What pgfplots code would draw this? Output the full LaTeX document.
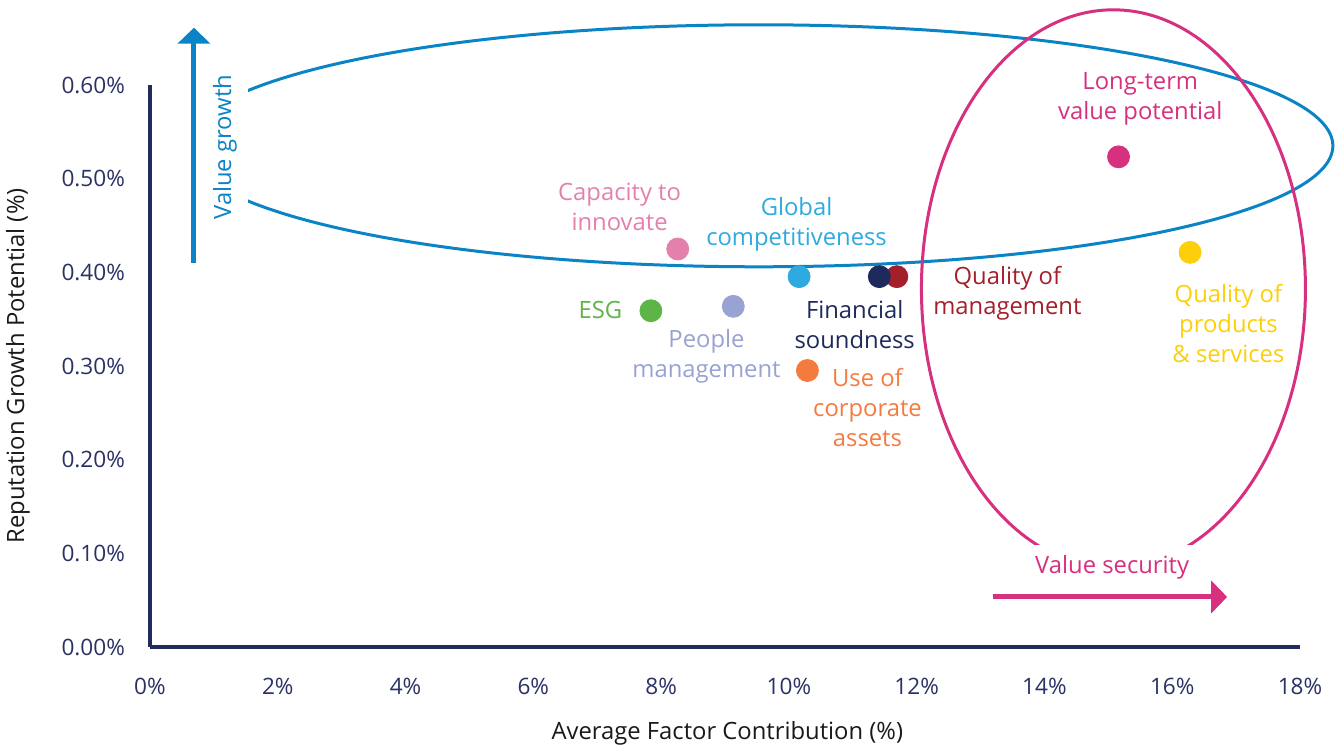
\documentclass[border=0pt]{standalone}
\usepackage{fontspec}
\setmainfont{Open Sans}
\usepackage{pgfplots}
\pgfplotsset{compat=1.18}
\usetikzlibrary{arrows.meta}
\definecolor{navy}{HTML}{232B5E}
\definecolor{navytext}{HTML}{2A3164}
\definecolor{vblue}{HTML}{0B84C6}
\definecolor{vpink}{HTML}{D6307F}
\definecolor{cprod}{HTML}{FDCF0A}
\definecolor{cmgmt}{HTML}{A3202A}
\definecolor{cfin}{HTML}{1F2A5C}
\definecolor{cglob}{HTML}{2EAAE1}
\definecolor{ccap}{HTML}{E480AC}
\definecolor{cesg}{HTML}{5DB547}
\definecolor{cpeop}{HTML}{98A2D3}
\definecolor{cuse}{HTML}{F47B3F}
\newcommand\tkl{\fontsize{11.3pt}{15pt}\selectfont}
\newcommand\lbl{\fontsize{11.9pt}{15pt}\selectfont}
\begin{document}
\begin{tikzpicture}
\useasboundingbox (-75pt,-50pt) rectangle (594.5pt,323.5pt);
\begin{axis}[
  at={(0,0)}, anchor=south west,
  scale only axis, width=575pt, height=281pt,
  xmin=0, xmax=18, ymin=0, ymax=0.6,
  clip=false,
  axis x line=bottom, axis y line=left,
  axis line style={navy, line width=2pt, -},
  xtick={0,2,4,6,8,10,12,14,16,18},
  xticklabels={0\%,2\%,4\%,6\%,8\%,10\%,12\%,14\%,16\%,18\%},
  ytick={0,0.1,0.2,0.3,0.4,0.5,0.6},
  yticklabels={0.00\%,0.10\%,0.20\%,0.30\%,0.40\%,0.50\%,0.60\%},
  major tick length=0pt, tick style={draw=none},
  xticklabel style={yshift=-12pt, text=navytext, font=\tkl},
  yticklabel style={xshift=-9pt, text=navytext, font=\tkl},
  xlabel={Average Factor Contribution (\%)},
  ylabel={Reputation Growth Potential (\%)},
  xlabel style={at={(axis description cs:0.502,-0.153)}, anchor=center, font=\lbl, text=black!90},
  ylabel style={at={(axis description cs:-0.1148,0.5)}, anchor=center, font=\lbl, text=black!90},
]
% annotations
\draw[vblue, line width=1.5pt] (axis cs:9.53,0.5351) ellipse [x radius=287pt, y radius=60.5pt];
\draw[vpink, line width=1.5pt] (axis cs:15.08,0.3824) ellipse [x radius=96pt, y radius=139.5pt];
\fill[white] (axis cs:0.313,0.4614) rectangle (axis cs:1.533,0.627);
\fill[white] (axis cs:13.64,0.060) rectangle (axis cs:16.55,0.109);
\draw[vblue, line width=2.5pt, -{Triangle[width=16pt,length=8pt]}] (axis cs:0.688,0.4102) -- (axis cs:0.688,0.6612);
\draw[vpink, line width=2.5pt, -{Triangle[width=16pt,length=8pt]}] (axis cs:13.19,0.0534) -- (axis cs:16.86,0.0534);
\node[rotate=90, text=vblue, font=\lbl] at (axis cs:1.173,0.5335) {Value growth};
\node[text=vpink, font=\lbl] at (axis cs:15.06,0.0855) {Value security};
% data points
\addplot[only marks, mark=*, mark size=5.5pt, color=vpink] coordinates {(15.16,0.5233)};
\addplot[only marks, mark=*, mark size=5.5pt, color=cprod] coordinates {(16.28,0.4213)};
\addplot[only marks, mark=*, mark size=5.5pt, color=cmgmt] coordinates {(11.69,0.3954)};
\addplot[only marks, mark=*, mark size=5.5pt, color=cfin] coordinates {(11.415,0.3954)};
\addplot[only marks, mark=*, mark size=5.5pt, color=cglob] coordinates {(10.16,0.3954)};
\addplot[only marks, mark=*, mark size=5.5pt, color=ccap] coordinates {(8.26,0.4249)};
\addplot[only marks, mark=*, mark size=5.5pt, color=cesg] coordinates {(7.84,0.359)};
\addplot[only marks, mark=*, mark size=5.5pt, color=cpeop] coordinates {(9.13,0.3637)};
\addplot[only marks, mark=*, mark size=5.5pt, color=cuse] coordinates {(10.29,0.2952)};
% labels
\node[align=center, text=vpink, font=\lbl] at (axis cs:15.50,0.5850) {Long-term\\value potential};
\node[align=center, text=ccap, font=\lbl] at (axis cs:7.35,0.4700) {Capacity to\\innovate};
\node[align=center, text=cglob, font=\lbl] at (axis cs:10.12,0.4510) {Global\\competitiveness};
\node[align=center, text=cfin, font=\lbl] at (axis cs:11.03,0.3440) {Financial\\soundness};
\node[align=center, text=cpeop, font=\lbl] at (axis cs:8.71,0.3105) {People\\management};
\node[align=center, text=cesg, font=\lbl] at (axis cs:7.05,0.3600) {ESG};
\node[align=center, text=cuse, font=\lbl] at (axis cs:11.23,0.2555) {Use of\\corporate\\assets};
\node[align=center, text=cmgmt, font=\lbl] at (axis cs:13.42,0.3772) {Quality of\\management};
\node[align=center, text=cprod, font=\lbl] at (axis cs:16.88,0.3457) {Quality of\\products\\\& services};
\end{axis}
\end{tikzpicture}
\end{document}
